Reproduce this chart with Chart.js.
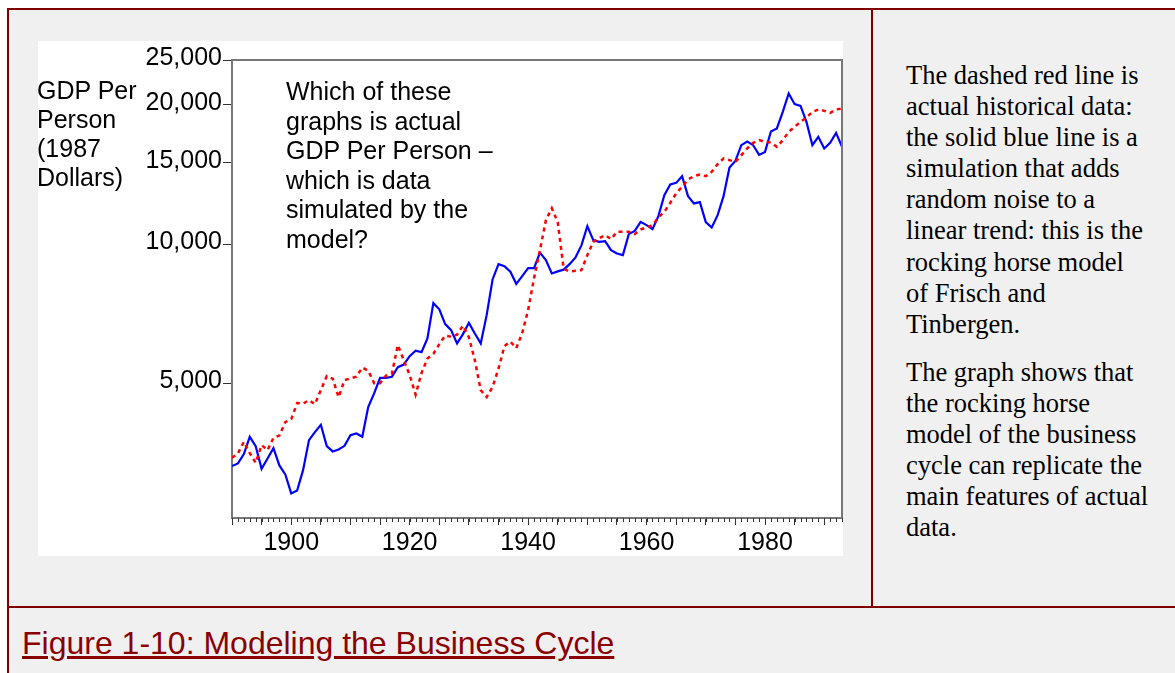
<!DOCTYPE html>
<html><head><meta charset="utf-8">
<script src="https://cdn.jsdelivr.net/npm/chart.js@4"></script>
<style>
body{margin:0;background:#fff;width:1175px;height:673px;overflow:hidden;position:relative;font-family:"Liberation Sans",Arial,sans-serif}
#frame{position:absolute;left:7px;top:8px;width:1300px;height:800px;background:#f0f0f0;border-left:2px solid #800000;border-top:2px solid #800000}
#vdiv{position:absolute;left:871px;top:8px;width:2px;height:600px;background:#800000}
#hdiv{position:absolute;left:7px;top:606px;width:1300px;height:2px;background:#800000}
#panel{position:absolute;left:38px;top:41px;width:805px;height:515px;background:#fff}
#panel canvas{position:absolute;left:0;top:0}
#ylab{position:absolute;left:37px;top:76px;font-size:25px;line-height:29px;color:#000;white-space:nowrap}
#note{position:absolute;left:286px;top:77px;font-size:25px;line-height:29.5px;color:#000;white-space:nowrap}
#side{position:absolute;left:906px;top:60px;font-family:"Liberation Serif","Times New Roman",serif;font-size:26.5px;line-height:31.1px;color:#000;white-space:nowrap}
#side p{margin:0}
#side p+p{margin-top:17px}
#cap{position:absolute;left:22px;top:625px;font-size:32px;line-height:36px;color:#8b0000;text-decoration:underline;white-space:nowrap}
</style></head>
<body>
<div id="frame"></div>
<div id="vdiv"></div>
<div id="hdiv"></div>
<div id="panel"><canvas id="c" width="805" height="515"></canvas></div>
<div id="ylab">GDP Per<br>Person<br>(1987<br>Dollars)</div>
<div id="note">Which of these<br>graphs is actual<br>GDP Per Person –<br>which is data<br>simulated by the<br>model?</div>
<div id="side"><p>The dashed red line is<br>actual historical data:<br>the solid blue line is a<br>simulation that adds<br>random noise to a<br>linear trend: this is the<br>rocking horse model<br>of Frisch and<br>Tinbergen.</p><p>The graph shows that<br>the rocking horse<br>model of the business<br>cycle can replicate the<br>main features of actual<br>data.</p></div>
<div id="cap">Figure 1-10: Modeling the Business Cycle</div>
<script>
const years = [1890,1891,1892,1893,1894,1895,1896,1897,1898,1899,
1900,1901,1902,1903,1904,1905,1906,1907,1908,1909,
1910,1911,1912,1913,1914,1915,1916,1917,1918,1919,
1920,1921,1922,1923,1924,1925,1926,1927,1928,1929,
1930,1931,1932,1933,1934,1935,1936,1937,1938,1939,
1940,1941,1942,1943,1944,1945,1946,1947,1948,1949,
1950,1951,1952,1953,1954,1955,1956,1957,1958,1959,
1960,1961,1962,1963,1964,1965,1966,1967,1968,1969,
1970,1971,1972,1973,1974,1975,1976,1977,1978,1979,
1980,1981,1982,1983,1984,1985,1986,1987,1988,1989,
1990,1991,1992,1993];
const simulated = [3314,3359,3518,3834,3660,3270,3443,3624,3326,3180,
2893,2936,3248,3772,3925,4070,3660,3565,3601,3666,
3866,3899,3834,4444,4758,5142,5142,5168,5423,5491,
5728,5887,5843,6255,7457,7230,6717,6519,6102,6391,
6760,6413,6102,7024,8389,9053,8963,8721,8208,8528,
8875,8875,9586,9235,8644,8734,8808,9053,9360,9940,
10937,10201,10115,10150,9706,9548,9467,10510,10684,11173,
10991,10775,11495,12761,13458,13566,14026,12698,12245,12324,
11157,10866,11552,12698,14646,15135,16364,16668,16364,15594,
15828,17519,17782,19314,21166,20067,19899,18376,16364,17054,
16098,16553,17397,16227];
const actual = [3453,3530,3740,3535,3369,3679,3588,3815,3861,4125,
4187,4534,4523,4602,4511,4837,5186,5121,4671,5083,
5127,5173,5410,5329,5008,5008,5199,5250,6050,5615,
5212,4729,5264,5663,5794,6081,6343,6312,6375,6667,
6296,5615,4837,4671,4916,5383,6020,6156,5961,6423,
7201,8444,9706,11268,11961,11157,8852,8721,8765,8786,
9467,10115,10303,10458,10252,10631,10631,10631,10510,10759,
10866,10991,11421,11743,12281,12869,13299,13798,14026,14145,
14026,14329,14889,15317,15188,15061,15571,16098,16553,16777,
16636,16587,16227,16777,17484,17925,18376,18783,19314,19545,
19411,19218,19545,19643];
const yTickValues = [5000,10000,15000,20000,25000];
const xMajorTicks = [1890,1895,1900,1905,1910,1915,1920,1925,1930,1935,1940,1945,1950,1955,1960,1965,1970,1975,1980,1985,1990];
const xLabelYears = [1900,1920,1940,1960,1980];

const FONT = '"Liberation Sans", Arial, sans-serif';

const decor = {
  id: 'decor',
  afterDraw(chart) {
    const ctx = chart.ctx, a = chart.chartArea, xs = chart.scales.x;
    ctx.save();
    ctx.strokeStyle = '#777';
    ctx.lineWidth = 2;
    ctx.beginPath();
    ctx.moveTo(a.left, a.top);
    ctx.lineTo(a.right, a.top);
    ctx.lineTo(a.right, a.bottom);
    ctx.stroke();
    ctx.strokeStyle = '#333';
    ctx.lineWidth = 1;
    ctx.beginPath();
    years.forEach(y => {
      const px = Math.round(xs.getPixelForValue(y)) + 0.5;
      ctx.moveTo(px, a.bottom);
      ctx.lineTo(px, a.bottom + 4);
    });
    ctx.stroke();
    ctx.restore();
  }
};

new Chart(document.getElementById('c'), {
  type: 'line',
  data: {
    datasets: [
      { label: 'Actual', data: years.map((y, i) => ({ x: y, y: actual[i] })),
        borderColor: '#ff0000', borderWidth: 2.5, borderDash: [4, 4], pointRadius: 0, fill: false, tension: 0 },
      { label: 'Simulated', data: years.map((y, i) => ({ x: y, y: simulated[i] })),
        borderColor: '#0000ff', borderWidth: 2.2, pointRadius: 0, fill: false, tension: 0 }
    ]
  },
  options: {
    responsive: false,
    animation: false,
    devicePixelRatio: 1,
    layout: { padding: { top: 19, right: 1, left: 0, bottom: 0 } },
    plugins: { legend: { display: false }, tooltip: { enabled: false } },
    scales: {
      x: {
        type: 'linear', min: 1890, max: 1993,
        afterFit: s => { s.height = 38; },
        afterBuildTicks: s => { s.ticks = xMajorTicks.map(v => ({ value: v })); },
        ticks: {
          autoSkip: false, maxRotation: 0, padding: 3,
          font: { family: FONT, size: 25 }, color: '#000',
          callback: v => xLabelYears.includes(v) ? String(v) : ''
        },
        grid: { drawOnChartArea: false, drawTicks: true, tickLength: 7, color: '#333', lineWidth: 1 },
        border: { display: true, color: '#777', width: 2 }
      },
      y: {
        type: 'logarithmic', min: 2560, max: 25000,
        afterFit: s => { s.width = 194; },
        afterBuildTicks: s => { s.ticks = yTickValues.map(v => ({ value: v })); },
        ticks: {
          autoSkip: false, padding: 1, labelOffset: -2,
          font: { family: FONT, size: 25 }, color: '#000',
          callback: v => Number(v).toLocaleString('en-US')
        },
        grid: { drawOnChartArea: false, drawTicks: true, tickLength: 9, color: '#333', lineWidth: 1 },
        border: { display: true, color: '#777', width: 2 }
      }
    }
  },
  plugins: [decor]
});
</script>
</body></html>
